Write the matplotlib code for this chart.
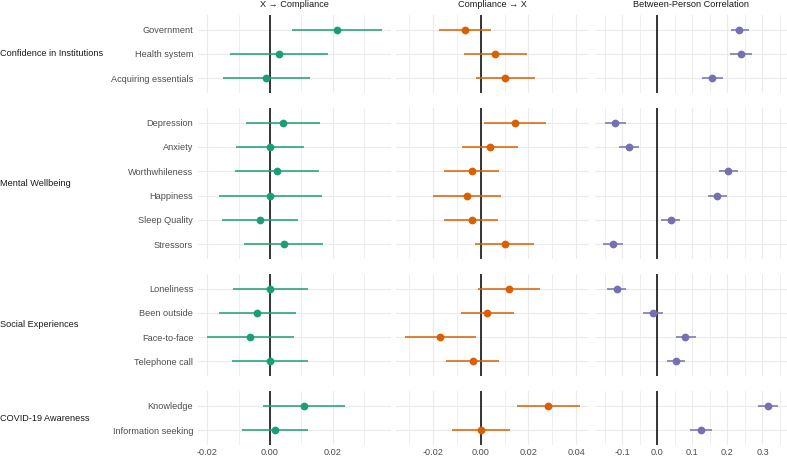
import matplotlib
matplotlib.use("Agg")
import matplotlib.pyplot as plt
import numpy as np

plt.rcParams['font.family'] = ['Liberation Sans', 'DejaVu Sans']

# ---------------- data ----------------
groups = ["Confidence in Institutions", "Mental Wellbeing",
          "Social Experiences", "COVID-19 Awareness"]
group_items = [
    ["Government", "Health system", "Acquiring essentials"],
    ["Depression", "Anxiety", "Worthwhileness", "Happiness", "Sleep Quality", "Stressors"],
    ["Loneliness", "Been outside", "Face-to-face", "Telephone call"],
    ["Knowledge", "Information seeking"],
]
panels = ["X \u2192 Compliance", "Compliance \u2192 X", "Between-Person Correlation"]
colors = ["#1B9E77", "#D95F02", "#7570B3"]

# X -> Compliance
xc_est = [0.0212, 0.0028, -0.0012, 0.0041, 0.0000, 0.0023, 0.0000, -0.0031, 0.0043,
          0.0000, -0.0041, -0.0062, 0.0000, 0.0107, 0.0016]
xc_lo = [0.0071, -0.0127, -0.0148, -0.0077, -0.0107, -0.0110, -0.0161, -0.0151, -0.0082,
         -0.0119, -0.0162, -0.0201, -0.0121, -0.0022, -0.0089]
xc_hi = [0.0355, 0.0183, 0.0127, 0.0160, 0.0108, 0.0157, 0.0164, 0.0090, 0.0167,
         0.0120, 0.0082, 0.0076, 0.0122, 0.0237, 0.0120]
# Compliance -> X
cx_est = [-0.0067, 0.0060, 0.0102, 0.0143, 0.0038, -0.0039, -0.0060, -0.0038, 0.0100,
          0.0119, 0.0028, -0.0171, -0.0032, 0.0283, 0.0000]
cx_lo = [-0.0175, -0.0071, -0.0021, 0.0014, -0.0080, -0.0155, -0.0200, -0.0153, -0.0024,
         -0.0010, -0.0083, -0.0319, -0.0146, 0.0151, -0.0122]
cx_hi = [0.0041, 0.0192, 0.0226, 0.0273, 0.0157, 0.0077, 0.0083, 0.0074, 0.0224,
         0.0248, 0.0141, -0.0022, 0.0078, 0.0415, 0.0123]
# Between-person correlation
bp_est = [0.234, 0.238, 0.157, -0.120, -0.081, 0.203, 0.171, 0.038, -0.127,
          -0.116, -0.011, 0.080, 0.053, 0.315, 0.126]
bp_lo = [0.210, 0.208, 0.129, -0.149, -0.109, 0.177, 0.146, 0.011, -0.154,
         -0.144, -0.040, 0.053, 0.027, 0.287, 0.094]
bp_hi = [0.261, 0.270, 0.187, -0.090, -0.051, 0.229, 0.198, 0.064, -0.097,
         -0.090, 0.017, 0.110, 0.080, 0.345, 0.157]

series = [(xc_est, xc_lo, xc_hi), (cx_est, cx_lo, cx_hi), (bp_est, bp_lo, bp_hi)]
major_ticks = [[-0.02, 0.00, 0.02], [-0.02, 0.00, 0.02, 0.04], [-0.1, 0.0, 0.1, 0.2, 0.3]]
minor_ticks = [[-0.01, 0.01, 0.03], [-0.03, -0.01, 0.01, 0.03],
               [-0.15, -0.05, 0.05, 0.15, 0.25, 0.35]]
tick_fmt = ["{:.2f}", "{:.2f}", "{:.1f}"]

# ---------------- layout ----------------
W, H = 787, 457
fig = plt.figure(figsize=(W / 100, H / 100), dpi=100)
fig.patch.set_facecolor("white")

col_left = [198.0, 396.0, 594.5]
col_w = 192.5
unit = 24.25
row_top0 = 15.1
gap = 15.5

text_col = "#4D4D4D"
strip_col = "#1A1A1A"
fs = 6.6

# x-limits per column (ggplot-like 5% expansion)
xlims = []
for est, lo, hi in series:
    mn, mx = min(lo), max(hi)
    r = mx - mn
    xlims.append((mn - 0.05 * r, mx + 0.05 * r))

row_tops = []
t = row_top0
for items in group_items:
    row_tops.append(t)
    t += (len(items) + 0.2) * unit + gap

idx0 = 0
for r, items in enumerate(group_items):
    n = len(items)
    h = (n + 0.2) * unit
    top = row_tops[r]
    for c in range(3):
        ax = fig.add_axes([col_left[c] / W, 1 - (top + h) / H, col_w / W, h / H])
        ax.set_facecolor("white")
        for s in ax.spines.values():
            s.set_visible(False)
        ax.set_xlim(*xlims[c])
        ax.set_ylim(n + 0.6, 0.4)
        ax.set_xticks(major_ticks[c])
        ax.set_xticks(minor_ticks[c], minor=True)
        ax.set_yticks(np.arange(1, n + 1))
        ax.grid(which="major", axis="both", color="#EBEBEB", lw=0.8, zorder=0)
        ax.grid(which="minor", axis="x", color="#EBEBEB", lw=0.6, zorder=0)
        ax.set_axisbelow(True)
        ax.tick_params(which="both", length=0)
        if r == len(group_items) - 1:
            ax.set_xticklabels([tick_fmt[c].format(v) for v in major_ticks[c]],
                               fontsize=fs, color=text_col)
            ax.tick_params(axis="x", pad=2.5)
        else:
            ax.set_xticklabels([])
        if c == 0:
            ax.set_yticklabels(items, fontsize=fs, color=text_col)
            ax.tick_params(axis="y", pad=3.5)
        else:
            ax.set_yticklabels([])
        ax.axvline(0, color="black", lw=1.1, zorder=2)
        est, lo, hi = series[c]
        ys = np.arange(1, n + 1)
        e = np.array(est[idx0:idx0 + n])
        l = np.array(lo[idx0:idx0 + n])
        u = np.array(hi[idx0:idx0 + n])
        ax.hlines(ys, l, u, color=colors[c], lw=1.1, zorder=3)
        ax.plot(e, ys, "o", color=colors[c], ms=5.6, mec="none", zorder=4)
        if r == 0:
            ax.set_title(panels[c], fontsize=fs, color=strip_col, pad=5.5)
    # group label
    fig.text(0.5 / W, 1 - (top + h / 2) / H, groups[r], fontsize=fs,
             color=strip_col, ha="left", va="center")
    idx0 += n

fig.savefig("out.png", dpi=100, facecolor="white")
